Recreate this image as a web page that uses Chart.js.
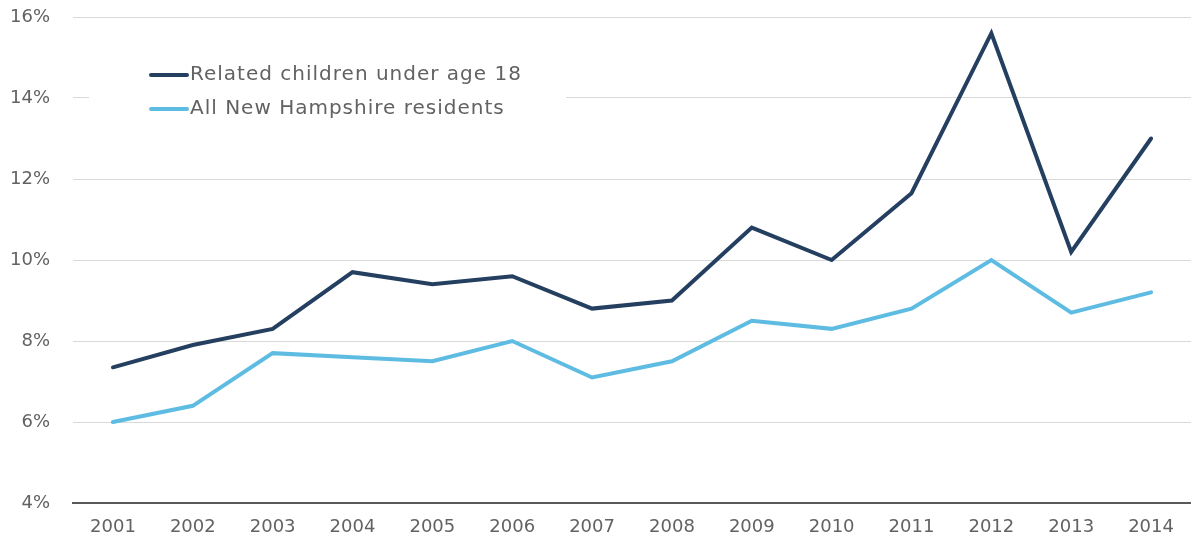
<!DOCTYPE html>
<html>
<head>
<meta charset="utf-8">
<script src="https://cdn.jsdelivr.net/npm/chart.js@4/dist/chart.umd.min.js"></script>
<style>
  html, body { margin: 0; padding: 0; background: #fff; }
  #wrap { width: 1191px; height: 544px; position: relative; }
</style>
</head>
<body>
<div id="wrap"><canvas id="c" width="1191" height="544"></canvas></div>
<script>
const years = ['2001','2002','2003','2004','2005','2006','2007','2008','2009','2010','2011','2012','2013','2014'];
const childrenRate = [7.35, 7.9, 8.3, 9.7, 9.4, 9.6, 8.8, 9.0, 10.8, 10.0, 11.65, 15.6, 10.2, 13.0];
const allResidentsRate = [6.0, 6.4, 7.7, 7.6, 7.5, 8.0, 7.1, 7.5, 8.5, 8.3, 8.8, 10.0, 8.7, 9.2];
const seriesNames = ['Related children under age 18', 'All New Hampshire residents'];

const FONT = '"DejaVu Sans", "Open Sans", sans-serif';
const TEXT = '#626262';

// Legend drawn inside the plot, on a white panel that hides the grid behind it
const insetLegend = {
  id: 'insetLegend',
  afterDatasetsDraw(chart) {
    const ctx = chart.ctx;
    ctx.save();
    ctx.fillStyle = '#fff';
    ctx.fillRect(89, 55, 477, 72);
    chart.data.datasets.forEach((ds, i) => {
      const y = 75 + i * 34;
      ctx.strokeStyle = ds.borderColor;
      ctx.lineWidth = 4;
      ctx.lineCap = 'round';
      ctx.beginPath();
      ctx.moveTo(151, y);
      ctx.lineTo(187, y);
      ctx.stroke();
      ctx.fillStyle = TEXT;
      ctx.font = '20px ' + FONT;
      ctx.letterSpacing = '1px';
      ctx.textBaseline = 'middle';
      ctx.textAlign = 'left';
      ctx.fillText(ds.label, 190, y);
    });
    ctx.restore();
  }
};

new Chart(document.getElementById('c'), {
  type: 'line',
  data: {
    labels: years,
    datasets: [
      { label: seriesNames[0], data: childrenRate, borderColor: '#243F60', borderWidth: 4, pointRadius: 0, tension: 0, borderCapStyle: 'round', borderJoinStyle: 'miter' },
      { label: seriesNames[1], data: allResidentsRate, borderColor: '#5EBCE2', borderWidth: 4, pointRadius: 0, tension: 0, borderCapStyle: 'round', borderJoinStyle: 'miter' }
    ]
  },
  options: {
    responsive: false,
    animation: false,
    layout: { padding: { top: 17, right: -7, bottom: 0, left: 0 } },
    plugins: { legend: { display: false }, tooltip: { enabled: false } },
    scales: {
      x: {
        offset: true,
        grid: { display: false, drawTicks: false },
        border: { display: true, color: '#595959', width: 2 },
        ticks: { color: TEXT, font: { family: FONT, size: 18 }, padding: 14, maxRotation: 0 },
        afterFit(s) { s.height = 41; s.paddingLeft = 0; s.paddingRight = 0; }
      },
      y: {
        min: 4, max: 16,
        ticks: { stepSize: 2, color: TEXT, font: { family: FONT, size: 18 }, padding: 23, callback: v => v + '%' },
        grid: { color: '#d9d9d9', lineWidth: 1, drawTicks: false },
        border: { display: false },
        afterFit(s) { s.width = 73; s.paddingTop = 0; s.paddingBottom = 0; }
      }
    }
  },
  plugins: [insetLegend]
});
</script>
</body>
</html>
